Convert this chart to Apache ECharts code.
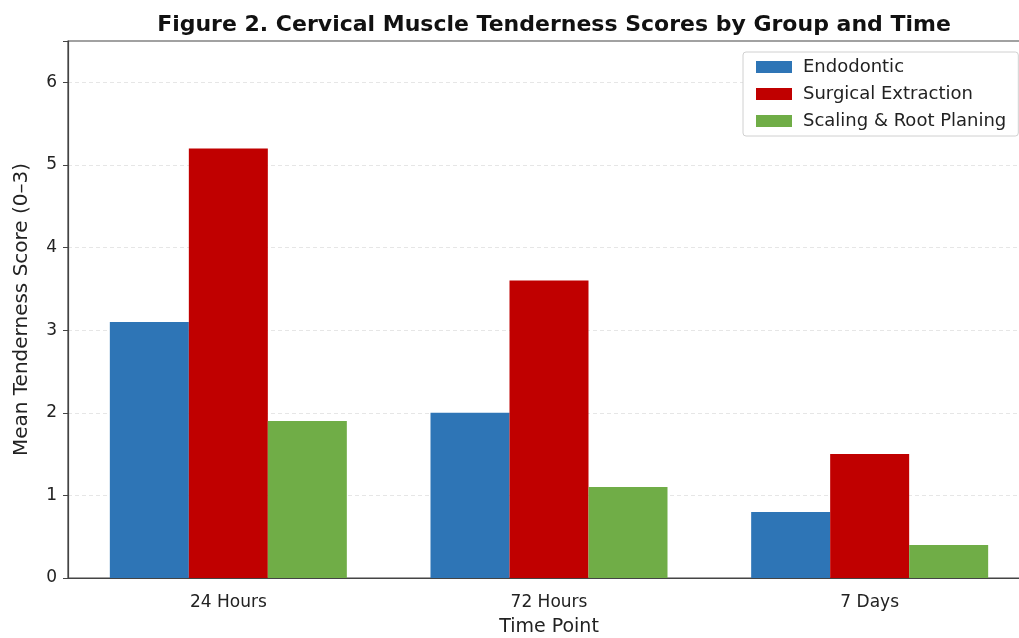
<!DOCTYPE html>
<html>
<head>
<meta charset="utf-8">
<script src="https://cdn.jsdelivr.net/npm/echarts@6/dist/echarts.min.js"></script>
<style>
  html, body { margin: 0; padding: 0; background: #fff; }
  #chart { width: 1019px; height: 638px; }
</style>
</head>
<body>
<div id="chart"></div>
<script>
const timePoints = ["24 Hours", "72 Hours", "7 Days"];
const endodontic = [3.1, 2.0, 0.8];
const surgicalExtraction = [5.2, 3.6, 1.5];
const scalingRootPlaning = [1.9, 1.1, 0.4];
const yTicks = [0, 1, 2, 3, 4, 5, 6];

const font = "DejaVu Sans";
const chart = echarts.init(document.getElementById("chart"));

chart.setOption({
  animation: false,
  backgroundColor: "#fff",
  textStyle: { fontFamily: font },
  title: {
    text: "Figure 2. Cervical Muscle Tenderness Scores by Group and Time",
    left: 549,
    textAlign: "center",
    top: 9,
    textStyle: { fontFamily: font, fontWeight: "bold", fontSize: 22, color: "#111" }
  },
  legend: {
    orient: "vertical",
    left: 743,
    top: 52,
    padding: [6, 12, 6, 13],
    itemWidth: 36,
    itemHeight: 12,
    itemGap: 9,
    icon: "rect",
    backgroundColor: "#fff",
    borderColor: "#d0d0d0",
    borderWidth: 1,
    borderRadius: 3,
    textStyle: { fontFamily: font, fontSize: 18, color: "#222", padding: [0, 0, 0, 6] },
    data: ["Endodontic", "Surgical Extraction", "Scaling & Root Planing"]
  },
  grid: {
    left: 68,
    width: 962,
    top: 41,
    height: 537,
    outerBoundsMode: "none",
    containLabel: false,
    show: true,
    borderColor: "#444",
    borderWidth: 1.2
  },
  xAxis: {
    type: "category",
    data: timePoints,
    name: "Time Point",
    nameLocation: "middle",
    nameGap: 40,
    nameTextStyle: { fontFamily: font, fontSize: 19, color: "#222" },
    axisLine: { lineStyle: { color: "#444", width: 1.2 } },
    axisTick: { alignWithLabel: true, length: 5, lineStyle: { color: "#444" } },
    axisLabel: { fontFamily: font, fontSize: 17, color: "#222", margin: 16 }
  },
  yAxis: {
    type: "value",
    min: 0,
    max: 6.5,
    interval: 1,
    name: "Mean Tenderness Score (0\u20133)",
    nameLocation: "middle",
    nameGap: 36,
    nameTextStyle: { fontFamily: font, fontSize: 20, color: "#222" },
    axisLine: { show: true, lineStyle: { color: "#444", width: 1.2 } },
    axisTick: { show: true, length: 5, lineStyle: { color: "#444" } },
    axisLabel: {
      fontFamily: font, fontSize: 17, color: "#222", margin: 11,
      formatter: v => (yTicks.includes(v) ? String(v) : "")
    },
    splitLine: {
      show: true, showMaxLine: false, showMinLine: false,
      lineStyle: { color: "#e6e6e6", type: [4, 3], width: 1 }
    }
  },
  series: [
    { name: "Endodontic", type: "bar", data: endodontic, barWidth: 79, barGap: "0%",
      itemStyle: { color: "#2E75B6" } },
    { name: "Surgical Extraction", type: "bar", data: surgicalExtraction, barWidth: 79, barGap: "0%",
      itemStyle: { color: "#C00000" } },
    { name: "Scaling & Root Planing", type: "bar", data: scalingRootPlaning, barWidth: 79, barGap: "0%",
      itemStyle: { color: "#70AD47" } }
  ]
});
</script>
</body>
</html>
